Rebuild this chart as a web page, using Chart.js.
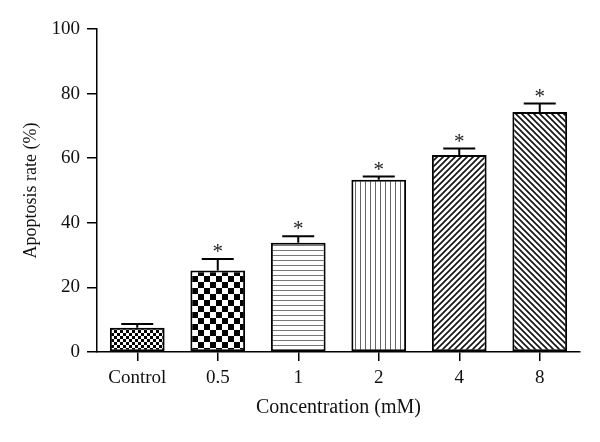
<!DOCTYPE html>
<html>
<head>
<meta charset="utf-8">
<script src="https://cdn.jsdelivr.net/npm/chart.js@4"></script>
<style>
  body { margin: 0; background: #fff; }
  canvas { display: block; }
</style>
</head>
<body>
<canvas id="chart" width="600" height="442"></canvas>
<script>
const categories = ['Control', '0.5', '1', '2', '4', '8'];
const apoptosisRate = [7.5, 25.2, 33.8, 53.3, 61.0, 74.3];
const errorSD = [1.2, 3.6, 2.0, 1.0, 2.0, 2.6];
const significant = [false, true, true, true, true, true];
const yMin = 0;
const yMax = 100;
const yStep = 20;

const serif = '"Liberation Serif", "Times New Roman", serif';

// Pattern helpers
function makeTile(size, draw) {
  const c = document.createElement('canvas');
  c.width = size;
  c.height = size;
  const g = c.getContext('2d');
  g.fillStyle = '#fff';
  g.fillRect(0, 0, size, size);
  draw(g, size);
  return document.getElementById('chart').getContext('2d').createPattern(c, 'repeat');
}

function checker(cell) {
  return makeTile(cell * 2, (g) => {
    g.fillStyle = '#000';
    g.fillRect(0, 0, cell, cell);
    g.fillRect(cell, cell, cell, cell);
  });
}

function hLines(gap, color) {
  return makeTile(gap, (g, s) => {
    g.fillStyle = color;
    g.fillRect(0, 0, s, 1);
  });
}

function vLines(gap, color) {
  return makeTile(gap, (g, s) => {
    g.fillStyle = color;
    g.fillRect(0, 0, 1, s);
  });
}

function diag(gap, forward) {
  return makeTile(gap, (g, s) => {
    g.strokeStyle = '#111';
    g.lineWidth = 1.6;
    g.beginPath();
    if (forward) {
      g.moveTo(-1, s + 1); g.lineTo(s + 1, -1);
      g.moveTo(-1, 1); g.lineTo(1, -1);
      g.moveTo(s - 1, s + 1); g.lineTo(s + 1, s - 1);
    } else {
      g.moveTo(-1, -1); g.lineTo(s + 1, s + 1);
      g.moveTo(s - 1, -1); g.lineTo(s + 1, 1);
      g.moveTo(-1, s - 1); g.lineTo(1, s + 1);
    }
    g.stroke();
  });
}

const fills = [
  checker(3),
  checker(6),
  hLines(5, '#777'),
  vLines(5, '#666'),
  diag(6, true),
  diag(6, false)
];

// Error bars and significance stars
const errorBars = {
  id: 'errorBars',
  afterDatasetsDraw(chart) {
    const { ctx, scales: { x, y } } = chart;
    ctx.save();
    ctx.strokeStyle = '#000';
    ctx.lineWidth = 2;
    apoptosisRate.forEach((v, i) => {
      const cx = x.getPixelForValue(i);
      const top = y.getPixelForValue(v);
      const capY = y.getPixelForValue(v + errorSD[i]);
      ctx.beginPath();
      ctx.moveTo(cx, top);
      ctx.lineTo(cx, capY);
      ctx.moveTo(cx - 16, capY);
      ctx.lineTo(cx + 16, capY);
      ctx.stroke();
      if (significant[i]) {
        ctx.fillStyle = '#222';
        ctx.font = '21px ' + serif;
        ctx.textAlign = 'center';
        ctx.textBaseline = 'alphabetic';
        ctx.fillText('*', cx, capY - 1);
      }
    });
    ctx.restore();
  }
};

new Chart(document.getElementById('chart'), {
  type: 'bar',
  data: {
    labels: categories,
    datasets: [{
      data: apoptosisRate,
      backgroundColor: fills,
      borderColor: '#000',
      borderWidth: 2,
      borderSkipped: false,
      categoryPercentage: 1,
      barPercentage: 0.68
    }]
  },
  options: {
    responsive: false,
    animation: false,
    layout: { padding: { top: 29, right: 20, left: 0, bottom: 0 } },
    plugins: {
      legend: { display: false },
      tooltip: { enabled: false }
    },
    scales: {
      x: {
        afterFit: (s) => { s.height = 90; },
        border: { color: '#000', width: 1.5 },
        grid: {
          offset: false,
          drawOnChartArea: false,
          color: '#000',
          lineWidth: 1.5,
          tickLength: 9
        },
        ticks: {
          color: '#111',
          padding: 6,
          font: { family: serif, size: 19 }
        },
        title: {
          display: true,
          text: 'Concentration (mM)',
          color: '#111',
          font: { family: serif, size: 20 },
          padding: { top: 0, bottom: 22 }
        }
      },
      y: {
        min: yMin,
        max: yMax,
        afterFit: (s) => { s.width = 97; },
        border: { color: '#000', width: 1.5 },
        grid: {
          drawOnChartArea: false,
          color: '#000',
          lineWidth: 1.5,
          tickLength: 10
        },
        ticks: {
          stepSize: yStep,
          color: '#111',
          padding: 7,
          font: { family: serif, size: 19 }
        },
        title: {
          display: true,
          text: 'Apoptosis rate (%)',
          color: '#111',
          font: { family: serif, size: 18 },
          padding: { top: 20, bottom: 0 }
        }
      }
    }
  },
  plugins: [errorBars]
});
</script>
</body>
</html>
